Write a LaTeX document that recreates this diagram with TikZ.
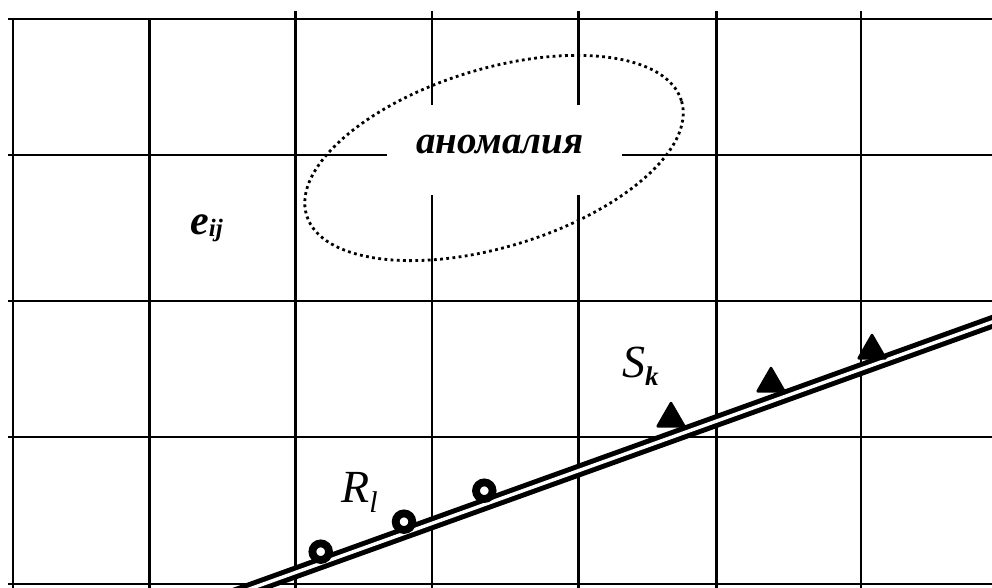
\documentclass[tikz,border=0pt]{standalone}
\usepackage{fontspec}
\setmainfont{Liberation Serif}
\usetikzlibrary{shapes.geometric}
\begin{document}
\begin{tikzpicture}[x=1pt,y=-1pt,
  gridline/.style={line width=2.8pt, black},
  anomline/.style={line width=2.8pt, dash pattern=on 2.8pt off 3.4pt},
  profile/.style={double=white, double distance=3.4pt, line width=5pt},
  receiver/.style={circle, draw=black, fill=white, line width=7.8pt, minimum size=16.6pt, inner sep=0pt},
  source/.style={regular polygon, regular polygon sides=3, fill=black, draw=black, line width=2.5pt, line join=round, minimum size=31pt, inner sep=0pt},
  lbl/.style={inner sep=0pt, anchor=base west}
  ]
\useasboundingbox (0,0) rectangle (992,588);
% horizontal grid lines
\foreach \yy in {19,301,437,584} \draw[gridline] (8,\yy) -- (992,\yy);
\draw[gridline] (8,155) -- (387,155);
\draw[gridline] (622,155) -- (992,155);
% vertical grid lines
\foreach \xx in {13,149.5} \draw[gridline] (\xx,19) -- (\xx,588);
\foreach \xx in {295.5,716.5,861} \draw[gridline] (\xx,11) -- (\xx,588);
\foreach \xx in {432,578.5} {
  \draw[gridline] (\xx,11) -- (\xx,105);
  \draw[gridline] (\xx,195) -- (\xx,588);
}
% profile line
\coordinate (lineA) at (230,596);
\coordinate (lineB) at (1010,315.5);
\draw[profile] (lineA) -- (lineB);
% receivers
\node[receiver] (r1) at (320.7,551.7) {};
\node[receiver] (r2) at (404,521.7) {};
\node[receiver] (r3) at (484.3,490.7) {};
% sources
\node[source] (s1) at (671,418.5) {};
\node[source] (s2) at (771,383.5) {};
\node[source] (s3) at (872,350.5) {};
% anomaly
\draw[anomline, rotate around={17:(494,158)}] (494,158) ellipse [x radius=196pt, y radius=89pt];
\node[inner sep=0pt, anchor=base, font=\fontsize{39}{39}\selectfont\bfseries\itshape] (anom) at (500,154) {аномалия};
% labels
\node[lbl] (eij) at (190,234) {\fontsize{42}{42}\selectfont\bfseries\itshape e\raisebox{-2pt}{\fontsize{25}{25}\selectfont ij}};
\node[lbl] (sk) at (622,377) {\fontsize{46}{46}\selectfont\itshape S\raisebox{-8pt}{\fontsize{27}{27}\selectfont\bfseries k}};
\node[lbl] (rl) at (341,502) {\fontsize{46}{46}\selectfont\itshape R\raisebox{-10pt}{\fontsize{30}{30}\selectfont l}};
\end{tikzpicture}
\end{document}
